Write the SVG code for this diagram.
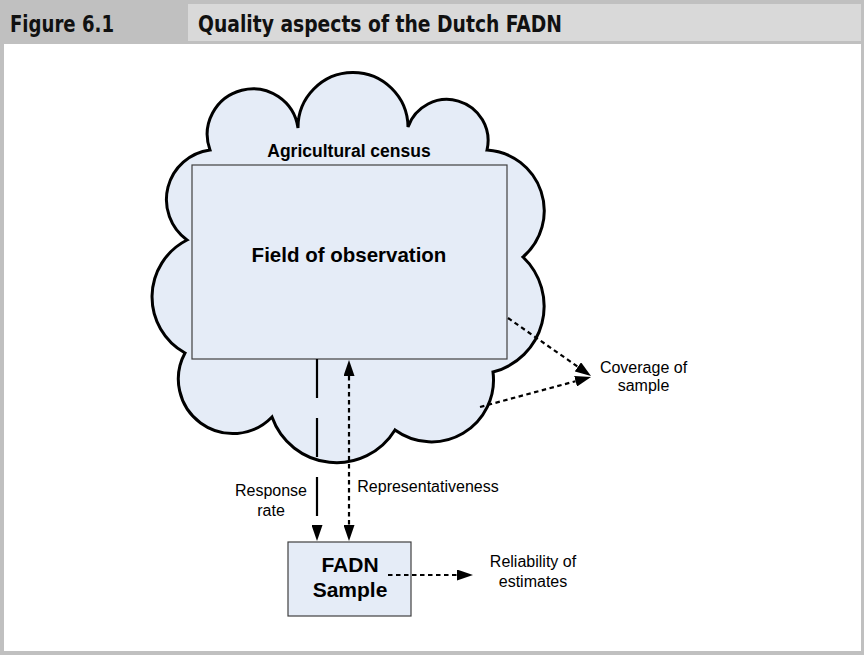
<svg xmlns="http://www.w3.org/2000/svg" width="864" height="655" viewBox="0 0 864 655">
  <style>
    .frame { fill: #c0c0c0; }
    .panel { fill: #ffffff; }
    .caption-cell { fill: #d9d9d9; }
    .caption { font-family: "Liberation Sans Narrow", "DejaVu Sans Condensed", "Liberation Sans", sans-serif; font-weight: bold; font-size: 23px; fill: #111111; }
    .cloud { fill: #e5ecf7; stroke: #000000; stroke-width: 3; stroke-linejoin: miter; }
    .box { fill: #e5ecf7; stroke: #404040; stroke-width: 1.2; }
    .title { font-family: "Liberation Sans", Arial, sans-serif; font-weight: bold; fill: #000000; text-anchor: middle; }
    .label { font-family: "Liberation Sans", Arial, sans-serif; font-size: 16px; fill: #000000; text-anchor: middle; }
    .dashed { fill: none; stroke: #000000; stroke-width: 2.2; stroke-dasharray: 39 20; }
    .dotted { fill: none; stroke: #000000; stroke-width: 2.2; stroke-dasharray: 4.5 3.5; }
  </style>
  <defs>
    <marker id="head" viewBox="0 0 16 11" refX="0" refY="5.5" markerWidth="16" markerHeight="11" markerUnits="userSpaceOnUse" orient="auto-start-reverse">
      <path d="M0,0 L16,5.5 L0,11 Z" fill="#000000"/>
    </marker>
  </defs>

  <!-- frame and caption bar -->
  <rect class="frame" x="0" y="0" width="864" height="655"/>
  <rect class="panel" x="4" y="44" width="857" height="607"/>
  <rect class="caption-cell" x="188" y="4" width="673" height="37"/>
  <text class="caption" x="10" y="32" textLength="104" lengthAdjust="spacingAndGlyphs">Figure 6.1</text>
  <text class="caption" x="198" y="32" textLength="364" lengthAdjust="spacingAndGlyphs">Quality aspects of the Dutch FADN</text>

  <!-- agricultural census cloud -->
  <g id="census">
    <path class="cloud" d="M210,150
      A45.6,45.6 0 1 1 298,128
      A55,55 0 1 1 408,127
      A41.2,41.2 0 0 1 487,150
      A60.9,60.9 0 0 1 523,257
      A67.9,67.9 0 0 1 493,372
      A62,62 0 0 1 395,430
      A68.5,68.5 0 0 1 272,417
      A54.5,54.5 0 0 1 185,353
      A64,64 0 0 1 187,240
      A50,50 0 0 1 210,150 Z"/>
    <text class="title" x="349" y="157" font-size="17.5">Agricultural census</text>
  </g>

  <g id="field">
    <rect class="box" x="192" y="165" width="315" height="194"/>
    <text class="title" x="349" y="262" font-size="20.5">Field of observation</text>
  </g>

  <g id="sample">
    <rect class="box" x="288" y="542" width="123" height="74"/>
    <text class="title" x="350" y="572" font-size="21">FADN</text>
    <text class="title" x="350" y="597" font-size="21">Sample</text>
  </g>

  <!-- connectors -->
  <g id="connectors">
    <line class="dashed" x1="317" y1="359" x2="317" y2="525" marker-end="url(#head)"/>
    <line class="dotted" x1="349" y1="376" x2="349" y2="525" marker-start="url(#head)" marker-end="url(#head)"/>
    <line class="dotted" x1="388" y1="575" x2="457" y2="575" marker-end="url(#head)"/>
    <line class="dotted" x1="508" y1="318" x2="577.9" y2="366.8" marker-end="url(#head)"/>
    <line class="dotted" x1="480" y1="407" x2="575.6" y2="381.2" marker-end="url(#head)"/>
  </g>

  <!-- labels -->
  <g id="labels">
    <text class="label" x="271" y="496">Response</text>
    <text class="label" x="271" y="516">rate</text>
    <text class="label" x="428" y="492" font-size="15.3">Representativeness</text>
    <text class="label" x="643.5" y="373">Coverage of</text>
    <text class="label" x="643.5" y="391">sample</text>
    <text class="label" x="533" y="567">Reliability of</text>
    <text class="label" x="533" y="587">estimates</text>
  </g>
</svg>
